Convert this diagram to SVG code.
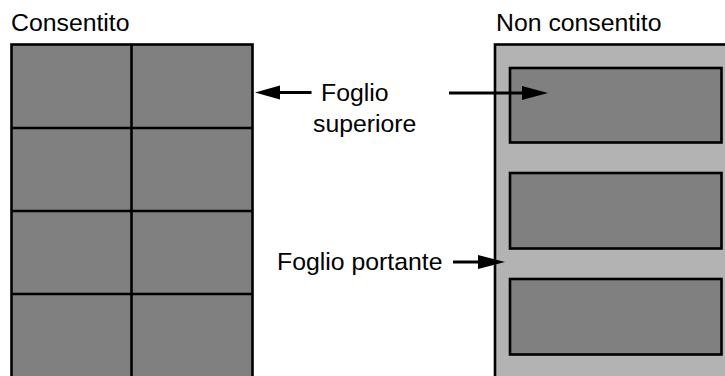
<svg xmlns="http://www.w3.org/2000/svg" width="725" height="376" viewBox="0 0 725 376">
  <style>
    .lbl { font-family: "Liberation Sans", Arial, sans-serif; font-size: 24.8px; fill: #000; }
    .dark { fill: #808080; stroke: #000; stroke-width: 2.6; }
    .light { fill: #b3b3b3; stroke: #000; stroke-width: 2.6; }
    .grid { stroke: #000; stroke-width: 2.6; fill: none; }
    .conn { stroke: #000; stroke-width: 3; fill: none; }
    .head { fill: #000; stroke: none; }
  </style>
  <rect width="725" height="376" fill="#fff"/>

  <g id="allowed">
    <text class="lbl" x="11" y="31">Consentito</text>
    <rect class="dark" x="11.5" y="44.5" width="241" height="340"/>
    <line class="grid" x1="131.5" y1="44.5" x2="131.5" y2="380"/>
    <line class="grid" x1="11.5" y1="128" x2="252.5" y2="128"/>
    <line class="grid" x1="11.5" y1="211" x2="252.5" y2="211"/>
    <line class="grid" x1="11.5" y1="294" x2="252.5" y2="294"/>
  </g>

  <g id="not-allowed">
    <text class="lbl" x="496" y="31">Non consentito</text>
    <rect class="light" x="495" y="44.5" width="240" height="340"/>
    <rect class="dark" x="510" y="68" width="211.5" height="74.5"/>
    <rect class="dark" x="510" y="173" width="211.5" height="75.5"/>
    <rect class="dark" x="510" y="279" width="211.5" height="75.5"/>
  </g>

  <g id="label-top-sheet">
    <text class="lbl" x="321" y="101">Foglio</text>
    <text class="lbl" x="313" y="132">superiore</text>
  </g>

  <g id="label-carrier-sheet">
    <text class="lbl" x="277" y="270">Foglio portante</text>
  </g>

  <g id="connectors">
    <line class="conn" x1="311.5" y1="92.5" x2="278" y2="92.5"/>
    <polygon class="head" points="255,92.5 280,85.5 280,99.5"/>
    <line class="conn" x1="449" y1="93" x2="524" y2="93"/>
    <polygon class="head" points="548,93 522,86 522,100"/>
    <line class="conn" x1="453" y1="262" x2="480" y2="262"/>
    <polygon class="head" points="505,262 478,255 478,269"/>
  </g>
</svg>
